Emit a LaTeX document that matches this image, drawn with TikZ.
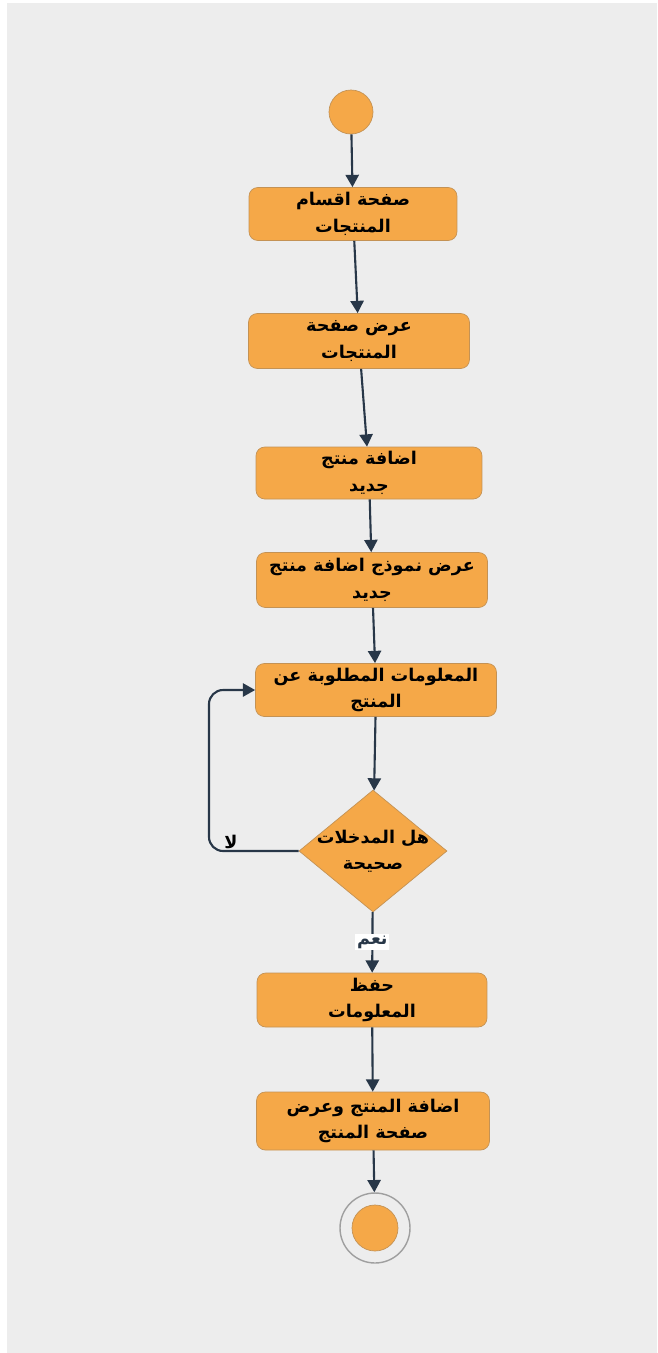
\documentclass[tikz,border=0pt]{standalone}
\usepackage{fontspec}
\newfontfamily\arabicfont[Script=Arabic]{DejaVu Sans}
\TeXXeTstate=1
\usetikzlibrary{arrows.meta, shapes.geometric}
\definecolor{actorange}{RGB}{245,168,72}
\definecolor{actborder}{RGB}{196,146,84}
\definecolor{flowblue}{RGB}{40,55,72}
\definecolor{pagegray}{RGB}{237,237,237}
\newcommand{\artext}[1]{\beginR #1\endR}

\begin{document}
\begin{tikzpicture}[x=0.02cm, y=-0.02cm,
    action/.style={draw=actborder, fill=actorange, rounded corners=5pt, align=center, inner sep=2pt,
      font=\arabicfont\bfseries\fontsize{10}{15}\selectfont},
    flow/.style={-{Triangle[length=7pt, width=7.5pt]}, line width=1.2pt, flowblue}]
      % Page
      \fill[white] (0,0) rectangle (658,1353);
      \fill[pagegray] (7,3) rectangle (657,1353);

      % Start
      \node[circle, draw=actborder, fill=actorange, minimum size=0.88cm] (start) at (351,112) {};

      % Actions
      \node[action, minimum width=4.16cm, minimum height=1.06cm] (cats) at (353,214) {\artext{صفحة اقسام}\\\artext{المنتجات}};
      \node[action, minimum width=4.42cm, minimum height=1.1cm] (showprod) at (359,341) {\artext{عرض صفحة}\\\artext{المنتجات}};
      \node[action, minimum width=4.52cm, minimum height=1.04cm] (addnew) at (369,473) {\artext{اضافة منتج}\\\artext{جديد}};
      \node[action, minimum width=4.62cm, minimum height=1.1cm] (form) at (372,580) {\artext{عرض نموذج اضافة منتج}\\\artext{جديد}};
      \node[action, minimum width=4.82cm, minimum height=1.06cm] (info) at (376,690) {\artext{المعلومات المطلوبة عن}\\\artext{المنتج}};

      % Decision
      \node[diamond, aspect=1.21, draw=actborder, fill=actorange, minimum width=2.96cm, minimum height=2.44cm, inner sep=-4pt, align=center,
        font=\arabicfont\bfseries\fontsize{10}{15}\selectfont] (check) at (373,851) {\artext{هل المدخلات}\\\artext{صحيحة}};

      \node[action, minimum width=4.6cm, minimum height=1.08cm] (save) at (372,1000) {\artext{حفظ}\\\artext{المعلومات}};
      \node[action, minimum width=4.66cm, minimum height=1.16cm] (addshow) at (373,1121) {\artext{اضافة المنتج وعرض}\\\artext{صفحة المنتج}};

      % End
      \node[circle, draw=gray!75, line width=0.8pt, minimum size=1.4cm] (finish) at (375,1228) {};
      \node[circle, draw=actborder, fill=actorange, minimum size=0.92cm] (finishdot) at (finish) {};

      % Flow
      \draw[flow] (start) -- (cats);
      \draw[flow] (cats) -- (showprod);
      \draw[flow] (showprod) -- (addnew);
      \draw[flow] (addnew) -- (form);
      \draw[flow] (form) -- (info);
      \draw[flow] (info) -- (check);
      \coordinate (loopturn) at (209,851);
      \draw[flow, rounded corners=8pt] (check.west) -- (loopturn) |- (info.west);
      \node[font=\arabicfont\bfseries\fontsize{10}{15}\selectfont, inner sep=1pt] (nolabel) at (231,842) {\artext{لا}};
      \draw[flow] (check) -- node[fill=white, inner sep=1pt, font=\arabicfont\bfseries\fontsize{10}{15}\selectfont] (yeslabel) {\artext{نعم}} (save);
      \draw[flow] (save) -- (addshow);
      \draw[flow] (addshow) -- (finish);
    \end{tikzpicture}
\end{document}
